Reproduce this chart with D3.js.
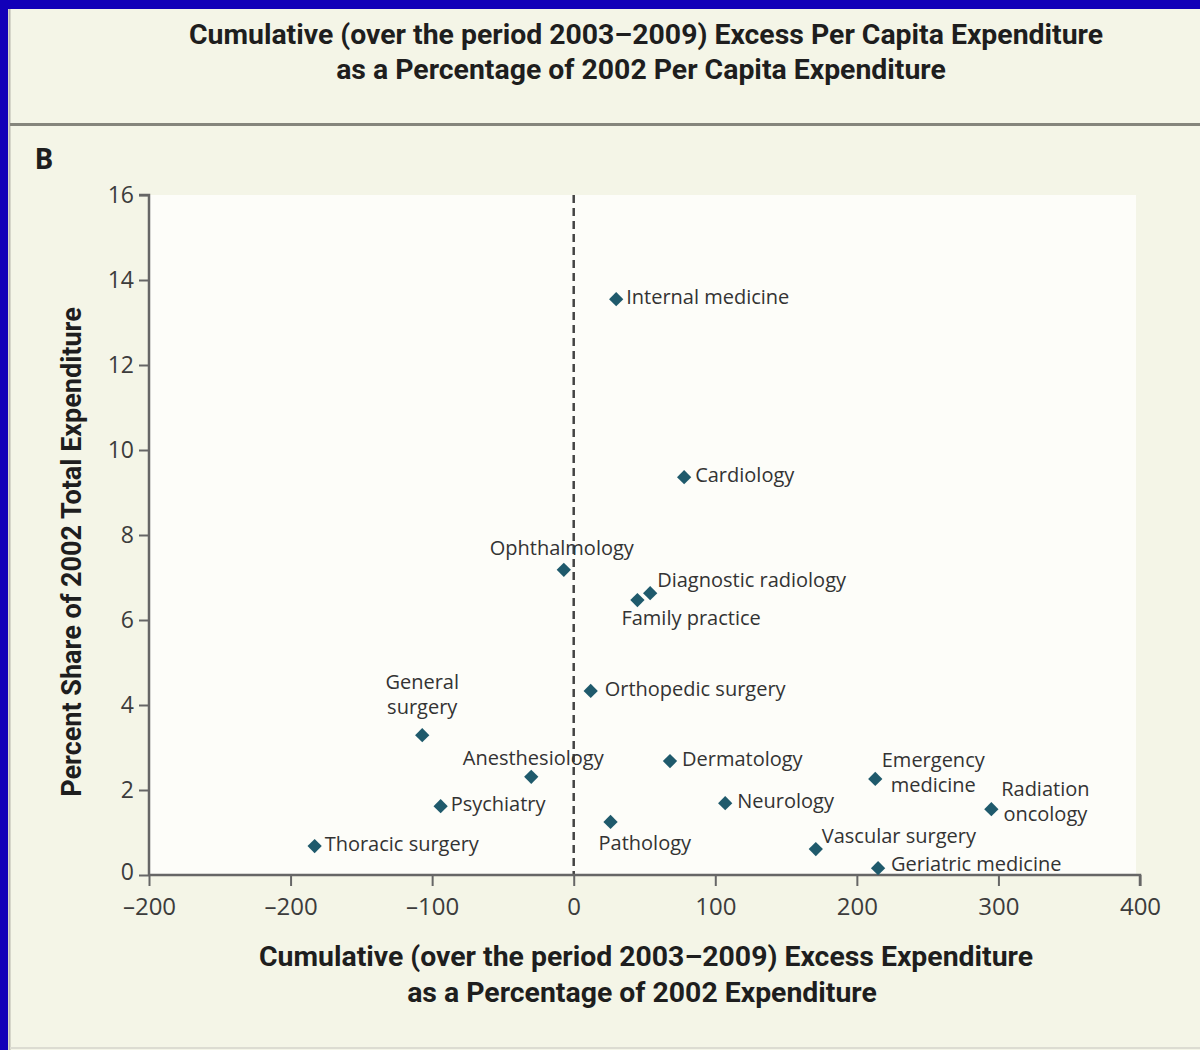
<!DOCTYPE html>
<meta charset="utf-8">
<style>
  body {
    margin: 0;
    background: #f4f5e7;
  }
  text { fill: #2e2e2e; }
  .title { font-family: "Roboto", sans-serif; font-weight: bold; font-size: 28.4px; fill: #1e1e1e; }
  .tick text { font-family: "Open Sans", sans-serif; font-size: 24px; fill: #3c3c3c; }
  .lbl { font-family: "Open Sans", sans-serif; font-size: 20px; fill: #333; }
</style>
<body>
  <script src="https://d3js.org/d3.v7.min.js"></script>
  <div id="chart"></div>
  <script>
    const width = 1200;
    const height = 1050;

    // specialties, x = cumulative excess expenditure (%), y = share of 2002 total (%)
    const specialties = ["Internal medicine", "Cardiology", "Ophthalmology", "Diagnostic radiology",
      "Family practice", "Orthopedic surgery", "General surgery", "Anesthesiology", "Dermatology",
      "Psychiatry", "Neurology", "Pathology", "Thoracic surgery", "Vascular surgery",
      "Geriatric medicine", "Emergency medicine", "Radiation oncology"];
    const excessPct = [30, 78, -7, 54, 45, 12, -107, -30, 68, -94, 107, 26, -183, 171, 215, 213, 295];
    const sharePct = [13.55, 9.36, 7.18, 6.63, 6.47, 4.33, 3.29, 2.31, 2.68, 1.62, 1.69, 1.25, 0.68, 0.61, 0.16, 2.26, 1.55];

    const xTicks = [-300, -200, -100, 0, 100, 200, 300, 400];
    const xTickLabels = ["–200", "–200", "–100", "0", "100", "200", "300", "400"];
    const yTicks = [0, 2, 4, 6, 8, 10, 12, 14, 16];

    // label placement around each marker
    const labelPos = {
      "Internal medicine": { dx: 10, dy: 0, anchor: "start" },
      "Cardiology": { dx: 11, dy: 0, anchor: "start" },
      "Ophthalmology": { dx: -2, dy: -20, anchor: "middle" },
      "Diagnostic radiology": { dx: 7, dy: -11, anchor: "start" },
      "Family practice": { dx: -16, dy: 20, anchor: "start" },
      "Orthopedic surgery": { dx: 14, dy: 0, anchor: "start" },
      "General surgery": { dx: 0, dy: -51, anchor: "middle", lines: ["General", "surgery"] },
      "Anesthesiology": { dx: 2, dy: -17, anchor: "middle" },
      "Dermatology": { dx: 12, dy: 0, anchor: "start" },
      "Psychiatry": { dx: 10, dy: 0, anchor: "start" },
      "Neurology": { dx: 12, dy: 0, anchor: "start" },
      "Pathology": { dx: -12, dy: 23, anchor: "start" },
      "Thoracic surgery": { dx: 10, dy: 0, anchor: "start" },
      "Vascular surgery": { dx: 6, dy: -11, anchor: "start" },
      "Geriatric medicine": { dx: 13, dy: -2, anchor: "start" },
      "Emergency medicine": { dx: 58, dy: -17, anchor: "middle", lines: ["Emergency", "medicine"] },
      "Radiation oncology": { dx: 54, dy: -18, anchor: "middle", lines: ["Radiation", "oncology"] }
    };

    const data = specialties.map((s, i) => ({ name: s, x: excessPct[i], y: sharePct[i] }));

    const svg = d3.select("#chart")
      .append("svg")
      .attr("width", width)
      .attr("height", height)
      .style("display", "block");

    // frame
    svg.append("rect").attr("width", width).attr("height", height).attr("fill", "#f4f5e7");
    svg.append("rect").attr("x", 0).attr("y", 0).attr("width", 8).attr("height", height).attr("fill", "#1200b8");
    svg.append("rect").attr("x", 0).attr("y", 0).attr("width", width).attr("height", 9).attr("fill", "#1200b8");
    svg.append("line").attr("x1", 9.5).attr("x2", 9.5).attr("y1", 9).attr("y2", height)
      .attr("stroke", "#b8b8ae").attr("stroke-width", 2);
    svg.append("line").attr("x1", 10).attr("x2", width).attr("y1", 124.5).attr("y2", 124.5)
      .attr("stroke", "#85857c").attr("stroke-width", 3);
    svg.append("line").attr("x1", 10).attr("x2", width).attr("y1", 1048).attr("y2", 1048)
      .attr("stroke", "#dcdcd2").attr("stroke-width", 2);

    // titles
    svg.append("text").attr("class", "title").attr("x", 646).attr("y", 44)
      .attr("text-anchor", "middle").text("Cumulative (over the period 2003–2009) Excess Per Capita Expenditure");
    svg.append("text").attr("class", "title").attr("x", 641).attr("y", 79)
      .attr("text-anchor", "middle").text("as a Percentage of 2002 Per Capita Expenditure");
    svg.append("text").attr("x", 44).attr("y", 169).attr("text-anchor", "middle")
      .style("font-family", "Open Sans, sans-serif").style("font-weight", "bold").style("font-size", "28px")
      .style("fill", "#1e1e1e").text("B");

    const x = d3.scaleLinear().domain([-300, 400]).range([149, 1140]);
    const y = d3.scaleLinear().domain([0, 16]).range([875, 195]);

    // plot background
    svg.append("rect").attr("x", x(-300)).attr("y", y(16))
      .attr("width", 1136 - x(-300)).attr("height", y(0) - y(16)).attr("fill", "#fdfdf9");

    // zero reference line
    svg.append("line").attr("x1", x(0)).attr("x2", x(0)).attr("y1", y(16)).attr("y2", y(0))
      .attr("stroke", "#444").attr("stroke-width", 2.5).attr("stroke-dasharray", "8,5");

    // axes
    const xAxis = svg.append("g").attr("transform", `translate(0,${y(0)})`)
      .call(d3.axisBottom(x).tickValues(xTicks).tickFormat((d, i) => xTickLabels[i]).tickSize(11).tickPadding(12));
    const yAxis = svg.append("g").attr("transform", `translate(${x(-300)},0)`)
      .call(d3.axisLeft(y).tickValues(yTicks).tickSize(10).tickPadding(5));
    [xAxis, yAxis].forEach(g => {
      g.select(".domain").attr("stroke", "#666").attr("stroke-width", 2.5);
      g.selectAll(".tick line").attr("stroke", "#666").attr("stroke-width", 2);
      g.selectAll(".tick text").attr("font-family", null).attr("font-size", null);
    });
    xAxis.select(".domain").attr("d", `M${x(-300)},0H${x(400)}V11`);
    yAxis.select(".domain").attr("d", `M-10,${y(16)}H0V${y(0)}`);
    yAxis.selectAll(".tick text").style("font-size", "23px");
    yAxis.selectAll(".tick text").filter(d => d === 0).attr("dy", "0.2em");

    // axis titles
    svg.append("text").attr("class", "title").attr("x", 646).attr("y", 966)
      .attr("text-anchor", "middle").text("Cumulative (over the period 2003–2009) Excess Expenditure");
    svg.append("text").attr("class", "title").attr("x", 642).attr("y", 1002)
      .attr("text-anchor", "middle").text("as a Percentage of 2002 Expenditure");
    svg.append("text").attr("class", "title").style("font-size", "27px")
      .attr("transform", `translate(81,552) rotate(-90)`)
      .attr("text-anchor", "middle").text("Percent Share of 2002 Total Expenditure");

    // markers
    const diamond = d3.symbol().type(d3.symbolDiamond2).size(130);
    svg.append("g").selectAll("path")
      .data(data)
      .join("path")
      .attr("transform", d => `translate(${x(d.x)},${y(d.y)})`)
      .attr("d", diamond)
      .attr("fill", "#1f5a6c");

    // labels
    const lbl = svg.append("g").selectAll("text")
      .data(data)
      .join("text")
      .attr("class", "lbl")
      .attr("x", d => x(d.x) + labelPos[d.name].dx)
      .attr("y", d => y(d.y) + labelPos[d.name].dy)
      .attr("text-anchor", d => labelPos[d.name].anchor)
      .attr("dominant-baseline", "middle");
    lbl.each(function (d) {
      const p = labelPos[d.name];
      const lines = p.lines || [d.name];
      d3.select(this).selectAll("tspan")
        .data(lines)
        .join("tspan")
        .attr("x", x(d.x) + p.dx)
        .attr("dy", (l, i) => i === 0 ? 0 : 25)
        .text(l => l);
    });
  </script>
</body>
